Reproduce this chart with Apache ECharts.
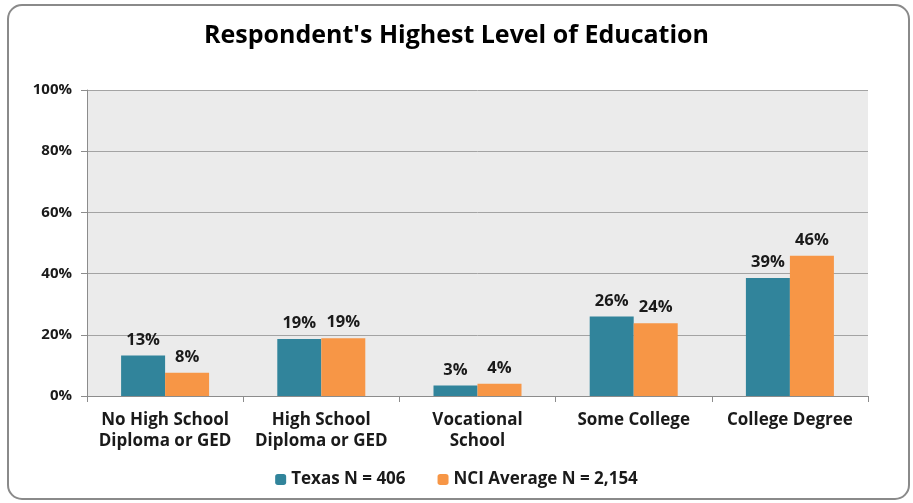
<!DOCTYPE html>
<html>
<head>
<meta charset="utf-8">
<script src="https://cdn.jsdelivr.net/npm/echarts@6/dist/echarts.min.js"></script>
<style>
  html, body { margin: 0; padding: 0; background: #fff; }
  #chart { width: 913px; height: 503px; }
</style>
</head>
<body>
<div id="chart"></div>
<script>
// education levels, reading from the bars
const categories = ['No High School\nDiploma or GED', 'High School\nDiploma or GED', 'Vocational\nSchool', 'Some College', 'College Degree'];
const texas = [13.2, 18.6, 3.4, 26.0, 38.6];
const nciAverage = [7.6, 18.9, 4.0, 23.8, 45.8];
const seriesNames = ['Texas N = 406', 'NCI Average N = 2,154'];

const font = '"Open Sans", "Liberation Sans", sans-serif';
const chart = echarts.init(document.getElementById('chart'));

const labelStyle = {
    show: true,
    position: 'top',
    distance: 7,
    formatter: p => Math.round(p.value) + '%',
    fontFamily: font,
    fontWeight: 'bold',
    fontSize: 16.5,
    color: '#1a1a1a'
};

chart.setOption({
    animation: false,
    backgroundColor: '#fff',
    title: {
        text: "Respondent's Highest Level of Education",
        left: 'center',
        top: 18,
        textStyle: { fontFamily: font, fontWeight: 'bold', fontSize: 25, color: '#000' }
    },
    legend: {
        bottom: 10,
        left: 'center',
        itemWidth: 11,
        itemHeight: 11,
        itemGap: 32,
        textStyle: { fontFamily: font, fontWeight: 'bold', fontSize: 17, color: '#1a1a1a' },
        data: seriesNames
    },
    grid: {
        left: 87, right: 45, top: 90, bottom: 107,
        show: true, backgroundColor: '#EBEBEB', borderWidth: 0
    },
    xAxis: {
        type: 'category',
        data: categories,
        axisLine: { lineStyle: { color: '#8c8c8c' } },
        axisTick: { show: true, length: 6, lineStyle: { color: '#8c8c8c' } },
        axisLabel: {
            interval: 0, margin: 14, lineHeight: 21,
            fontFamily: font, fontWeight: 'bold', fontSize: 17, color: '#1a1a1a'
        }
    },
    yAxis: {
        type: 'value',
        min: 0, max: 100, interval: 20,
        axisLine: { show: true, lineStyle: { color: '#8c8c8c' } },
        axisTick: { show: true, length: 6, lineStyle: { color: '#8c8c8c' } },
        splitLine: { lineStyle: { color: '#a3a3a3' } },
        axisLabel: {
            margin: 15,
            formatter: '{value}%',
            fontFamily: font, fontWeight: 'bold', fontSize: 15, color: '#1a1a1a'
        }
    },
    series: [
        { name: seriesNames[0], type: 'bar', data: texas, barWidth: 44, barGap: '0%',
          itemStyle: { color: '#31849B' }, label: labelStyle },
        { name: seriesNames[1], type: 'bar', data: nciAverage, barWidth: 44,
          itemStyle: { color: '#F79646' }, label: labelStyle }
    ],
    graphic: [{
        type: 'rect',
        shape: { x: 8, y: 5, width: 901, height: 494, r: 14 },
        style: { fill: 'none', stroke: '#8a8a8a', lineWidth: 2 },
        silent: true
    }]
});
</script>
</body>
</html>
